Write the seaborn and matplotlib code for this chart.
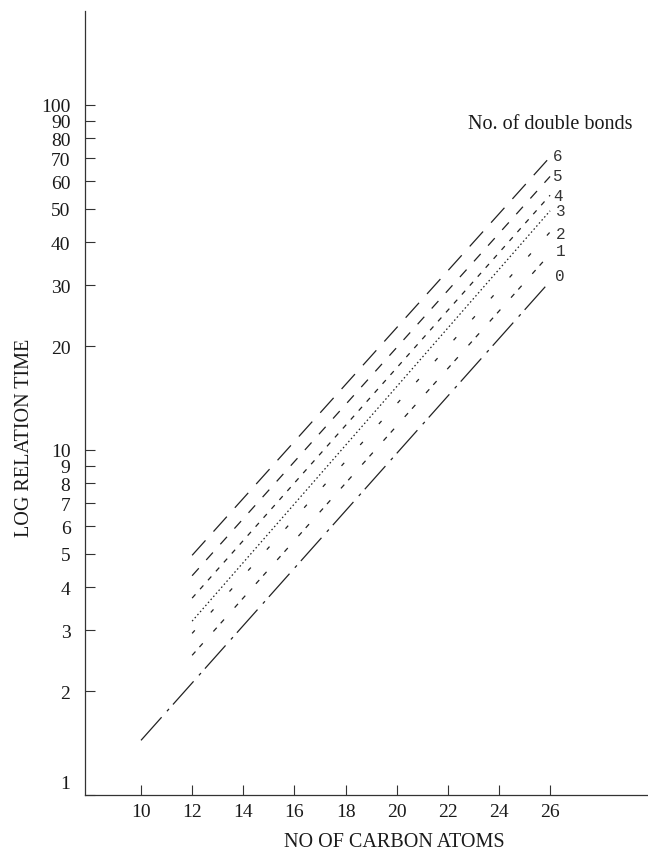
import matplotlib
matplotlib.use("Agg")
import matplotlib.pyplot as plt
import matplotlib.transforms as mtransforms
import seaborn as sns
import pandas as pd

# number of double bonds, and each line's ends
bonds = ["0", "1", "2", "3", "4", "5", "6"]
x_start = [10, 12, 12, 12, 12, 12, 12]
x_end = [26, 26, 26, 26, 26, 26, 26]
y_start = [1.44, 2.54, 2.94, 3.19, 3.72, 4.32, 4.95]
y_end = [30.8, 37.0, 42.8, 49.3, 54.7, 62.0, 70.6]

# where the little bond numbers sit
label_x = [26.4, 26.4, 26.4, 26.4, 26.3, 26.3, 26.3]
label_y = [32.1, 37.8, 42.4, 49.3, 54.5, 62.2, 71.1]

xticks = [10, 12, 14, 16, 18, 20, 22, 24, 26]
yticks = [1, 2, 3, 4, 5, 6, 7, 8, 9, 10, 20, 30, 40, 50, 60, 70, 80, 90, 100]

rows = []
for b, xs, xe, ys, ye in zip(bonds, x_start, x_end, y_start, y_end):
    rows.append({"bonds": b, "carbon": xs, "time": ys})
    rows.append({"bonds": b, "carbon": xe, "time": ye})
df = pd.DataFrame(rows)

sns.set_style("ticks")
plt.rcParams["font.family"] = ["Liberation Serif", "DejaVu Serif"]
plt.rcParams["lines.scale_dashes"] = False

dash_styles = {
    "0": (22.3, 5.8, 2.2, 4.3),
    "1": (3.6, 4.3, 3.6, 11.5),
    "2": (2.9, 17.3),
    "3": (1.1, 1.8),
    "4": (3.6, 5.0),
    "5": (7.2, 8.0),
    "6": (14.4, 8.6),
}
ink = "#222222"

fig = plt.figure(figsize=(6.48, 8.53), dpi=100)
ax = fig.add_axes([85 / 648, 57 / 853, 563 / 648, 784 / 853])

sns.lineplot(
    data=df, x="carbon", y="time", hue="bonds", style="bonds",
    palette={b: ink for b in bonds}, dashes=dash_styles,
    linewidth=0.9, legend=False, ax=ax,
)

ax.set_yscale("log")
ax.set_xlim(7.81, 29.83)
ax.set_ylim(1, 187)
ax.set_xticks(xticks)
ax.set_xticklabels([str(t) for t in xticks])
ax.set_yticks(yticks)
ax.set_yticklabels([str(t) for t in yticks])
ax.yaxis.set_minor_locator(matplotlib.ticker.NullLocator())

ax.tick_params(direction="in", length=7.2, width=0.8, colors="#333333",
               labelsize=14, labelcolor="#1a1a1a")
ax.tick_params(axis="y", pad=10.5)
ax.tick_params(axis="x", pad=6)

for side in ["top", "right"]:
    ax.spines[side].set_visible(False)
for side in ["left", "bottom"]:
    ax.spines[side].set_linewidth(0.9)
    ax.spines[side].set_color("#333333")

# the "1" label sits just above the x axis
lab1 = ax.get_yticklabels()[0]
lab1.set_transform(lab1.get_transform() +
                   mtransforms.ScaledTranslation(0, 0.13, fig.dpi_scale_trans))

ax.set_xlabel("NO OF CARBON ATOMS", fontsize=14.5, color="#1a1a1a")
ax.xaxis.label.set_va("center")
ax.xaxis.set_label_coords(0.55, -0.0587)
ax.set_ylabel("LOG RELATION TIME", fontsize=14.5, color="#1a1a1a")
ax.yaxis.label.set_va("center")
ax.yaxis.set_label_coords(-0.108, 0.457)

for b, lx, ly in zip(bonds, label_x, label_y):
    ax.text(lx, ly, b, fontsize=11.5, family=["Liberation Mono", "DejaVu Sans Mono"],
            ha="center", va="center", color="#333333")

ax.text(26.0, 88.1, "No. of double bonds", fontsize=14.5, ha="center", va="center",
        color="#1a1a1a")

fig.savefig("out.png", dpi=100)
